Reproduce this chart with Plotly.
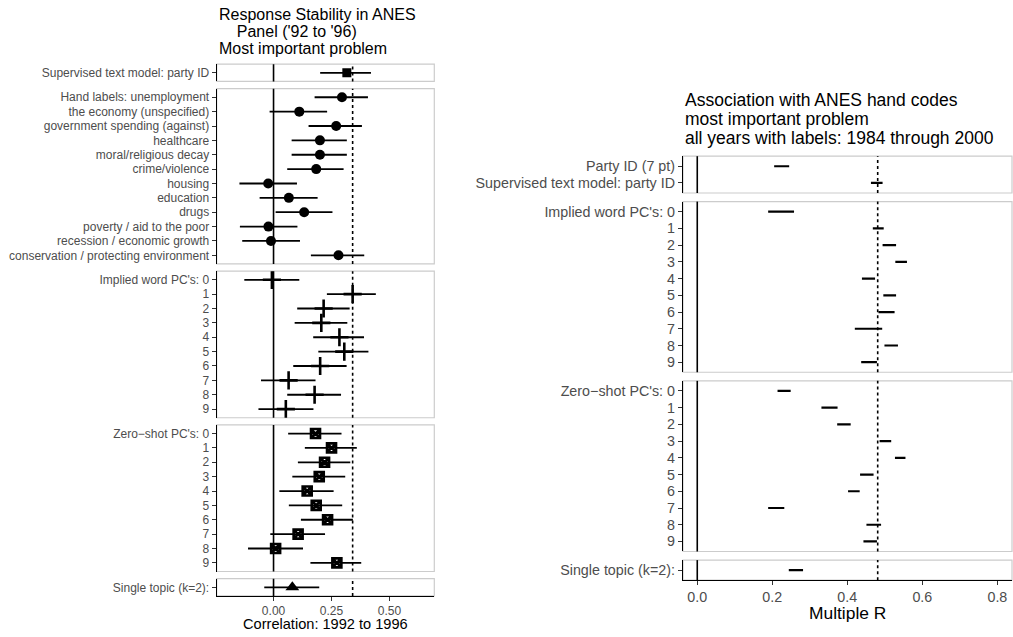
import plotly.graph_objects as go

W, H = 1013, 637
FONT = "Liberation Sans, Arial, Helvetica, sans-serif"
TICK_GREY = "#4D4D4D"
BORDER_GREY = "#CCCCCC"

# ---------------- Left: response stability, ANES panel '92 -> '96 ----------------
sup_labels = ["Supervised text model: party ID"]
sup_est = [0.316]
sup_lo = [0.201]
sup_hi = [0.420]

hand_labels = [
    "Hand labels: unemployment",
    "the economy (unspecified)",
    "government spending (against)",
    "healthcare",
    "moral/religious decay",
    "crime/violence",
    "housing",
    "education",
    "drugs",
    "poverty / aid to the poor",
    "recession / economic growth",
    "conservation / protecting environment",
]
hand_est = [0.295, 0.111, 0.270, 0.200, 0.200, 0.184, -0.023, 0.066, 0.132, -0.022, -0.011, 0.280]
hand_lo = [0.177, -0.017, 0.151, 0.078, 0.078, 0.059, -0.147, -0.060, 0.009, -0.145, -0.135, 0.161]
hand_hi = [0.407, 0.231, 0.381, 0.316, 0.316, 0.302, 0.101, 0.190, 0.254, 0.103, 0.114, 0.391]

implied_labels = ["Implied word PC's: 0", "1", "2", "3", "4", "5", "6", "7", "8", "9"]
impl_est = [-0.007, 0.341, 0.216, 0.206, 0.284, 0.305, 0.201, 0.065, 0.177, 0.053]
impl_lo = [-0.126, 0.230, 0.102, 0.091, 0.171, 0.193, 0.085, -0.054, 0.059, -0.065]
impl_hi = [0.111, 0.441, 0.328, 0.318, 0.390, 0.409, 0.315, 0.181, 0.291, 0.172]

zeroshot_labels = ["Zero\u2212shot PC's: 0", "1", "2", "3", "4", "5", "6", "7", "8", "9"]
zs_est = [0.181, 0.250, 0.220, 0.197, 0.145, 0.184, 0.233, 0.106, 0.009, 0.273]
zs_lo = [0.063, 0.135, 0.105, 0.081, 0.025, 0.066, 0.118, -0.014, -0.110, 0.159]
zs_hi = [0.293, 0.359, 0.331, 0.309, 0.259, 0.296, 0.342, 0.222, 0.127, 0.378]

topic_labels = ["Single topic (k=2):"]
topic_est = [0.081]
topic_lo = [-0.040]
topic_hi = [0.197]

stability_ref = 0.341
left_ticks = [0.0, 0.25, 0.5]
left_ticktext = ["0.00", "0.25", "0.50"]

# ---------------- Right: association with ANES hand codes ----------------
r_party_labels = ["Party ID (7 pt)", "Supervised text model: party ID"]
r_party_lo = [0.205, 0.463]
r_party_hi = [0.245, 0.494]

r_impl_lo = [0.189, 0.468, 0.494, 0.528, 0.439, 0.496, 0.483, 0.420, 0.499, 0.437]
r_impl_hi = [0.258, 0.497, 0.530, 0.559, 0.474, 0.530, 0.526, 0.493, 0.535, 0.479]

r_zs_lo = [0.214, 0.331, 0.373, 0.486, 0.527, 0.434, 0.402, 0.189, 0.451, 0.443]
r_zs_hi = [0.249, 0.374, 0.409, 0.517, 0.555, 0.470, 0.433, 0.232, 0.490, 0.479]

r_topic_labels = ["Single topic (k=2):"]
r_topic_lo = [0.244]
r_topic_hi = [0.282]

assoc_ref = 0.481
right_ticks = [0.0, 0.2, 0.4, 0.6, 0.8]
right_ticktext = ["0.0", "0.2", "0.4", "0.6", "0.8"]


def fx(px):
    return px / W


def fy(py):
    return 1 - py / H


def stack(top, unit, gap, counts):
    """Vertical pixel extents of facet panels sized by row count."""
    out = []
    y = top
    for n in counts:
        h = (n + 0.2) * unit
        out.append((y, y + h))
        y += h + gap
    return out


fig = go.Figure()
shapes = []
axis_n = [0]


def add_panel(xpx, ypx, labels, xrange, ref, tickfont, bottom=False,
              xticks=None, xticktext=None):
    axis_n[0] += 1
    k = axis_n[0]
    sfx = "" if k == 1 else str(k)
    n = len(labels)
    fig.update_layout(**{
        f"xaxis{sfx}": dict(
            domain=[fx(xpx[0]), fx(xpx[1])], anchor=f"y{sfx}", range=xrange,
            showgrid=False, zeroline=False, fixedrange=True,
            showline=bottom, linecolor="black", linewidth=1.2,
            ticks="outside" if bottom else "", ticklen=3.5, tickcolor="#333333",
            showticklabels=bottom, tickvals=xticks, ticktext=xticktext,
            tickfont=dict(family=FONT, size=tickfont, color=TICK_GREY),
        ),
        f"yaxis{sfx}": dict(
            domain=[fy(ypx[1]), fy(ypx[0])], anchor=f"x{sfx}",
            range=[n - 1 + 0.6, -0.6], showgrid=False, zeroline=False,
            fixedrange=True, showline=True, linecolor="black", linewidth=1.2,
            ticks="outside", ticklen=4, tickcolor="#333333",
            tickvals=list(range(n)), ticktext=labels,
            tickfont=dict(family=FONT, size=tickfont, color=TICK_GREY),
        ),
    })
    # panel border
    shapes.append(dict(type="rect", xref="paper", yref="paper", layer="below",
                       x0=fx(xpx[0]), x1=fx(xpx[1]), y0=fy(ypx[1]), y1=fy(ypx[0]),
                       line=dict(color=BORDER_GREY, width=1.2)))
    # zero line and reference line
    shapes.append(dict(type="line", xref=f"x{sfx}", yref=f"y{sfx} domain", layer="below",
                       x0=0, x1=0, y0=0, y1=1, line=dict(color="black", width=1.6)))
    shapes.append(dict(type="line", xref=f"x{sfx}", yref=f"y{sfx} domain", layer="below",
                       x0=ref, x1=ref, y0=0, y1=1,
                       line=dict(color="black", width=1.6, dash="dot")))
    return f"x{sfx}", f"y{sfx}"


def add_points(axes, est, lo, hi, symbol, size, line_w=0):
    xa, ya = axes
    fig.add_trace(go.Scatter(
        x=est, y=list(range(len(est))), xaxis=xa, yaxis=ya, mode="markers",
        marker=dict(symbol=symbol, size=size, color="black",
                    line=dict(color="black", width=line_w)),
        error_x=dict(type="data", symmetric=False,
                     array=[h - e for h, e in zip(hi, est)],
                     arrayminus=[e - l for e, l in zip(est, lo)],
                     width=0, thickness=1.8, color="black"),
        showlegend=False, hoverinfo="skip",
    ))


def add_segments(axes, lo, hi):
    xa, ya = axes
    xs, ys = [], []
    for i, (l, h) in enumerate(zip(lo, hi)):
        xs += [l, h, None]
        ys += [i, i, None]
    fig.add_trace(go.Scatter(
        x=xs, y=ys, xaxis=xa, yaxis=ya, mode="lines",
        line=dict(color="black", width=2.2), showlegend=False, hoverinfo="skip",
    ))


# ----- left facets -----
L_X = (216.7, 434.3)
L_RANGE = [-0.245, 0.693]
left_groups = [
    (sup_labels, sup_est, sup_lo, sup_hi, "square", 9, 0),
    (hand_labels, hand_est, hand_lo, hand_hi, "circle", 10, 0),
    (implied_labels, impl_est, impl_lo, impl_hi, "cross-thin-open", 13, 2.6),
    (zeroshot_labels, zs_est, zs_lo, zs_hi, "square-x-open", 9, 2.6),
    (topic_labels, topic_est, topic_lo, topic_hi, "triangle-up", 12, 0),
]
left_ext = stack(64.2, 14.37, 7.2, [len(g[0]) for g in left_groups])
for i, (g, ext) in enumerate(zip(left_groups, left_ext)):
    labels, est, lo, hi, sym, sz, lw = g
    last = i == len(left_groups) - 1
    ax = add_panel(L_X, ext, labels, L_RANGE, stability_ref, 12, bottom=last,
                   xticks=left_ticks if last else None,
                   xticktext=left_ticktext if last else None)
    add_points(ax, est, lo, hi, sym, sz, lw)

# ----- right facets -----
R_X = (683.0, 1012.0)
R_RANGE = [-0.038, 0.839]
right_groups = [
    (r_party_labels, r_party_lo, r_party_hi),
    (implied_labels, r_impl_lo, r_impl_hi),
    (zeroshot_labels, r_zs_lo, r_zs_hi),
    (r_topic_labels, r_topic_lo, r_topic_hi),
]
right_ext = stack(156.2, 16.73, 8.6, [len(g[0]) for g in right_groups])
for i, (g, ext) in enumerate(zip(right_groups, right_ext)):
    labels, lo, hi = g
    last = i == len(right_groups) - 1
    ax = add_panel(R_X, ext, labels, R_RANGE, assoc_ref, 14.3, bottom=last,
                   xticks=right_ticks if last else None,
                   xticktext=right_ticktext if last else None)
    add_segments(ax, lo, hi)

# ----- titles -----
annotations = []
left_title = ["Response Stability in ANES",
              "\u00a0\u00a0\u00a0\u00a0Panel ('92 to '96)",
              "Most important problem"]
for line, yc in zip(left_title, [14.0, 31.2, 48.3]):
    annotations.append(dict(text=line, x=fx(217), y=fy(yc), xref="paper", yref="paper",
                            xanchor="left", yanchor="middle", showarrow=False,
                            font=dict(family=FONT, size=16, color="black")))
right_title = ["Association with ANES hand codes",
               "most important problem",
               "all years with labels: 1984 through 2000"]
for line, yc in zip(right_title, [100.0, 119.3, 138.3]):
    annotations.append(dict(text=line, x=fx(683), y=fy(yc), xref="paper", yref="paper",
                            xanchor="left", yanchor="middle", showarrow=False,
                            font=dict(family=FONT, size=17.5, color="black")))
annotations.append(dict(text="Correlation: 1992 to 1996", x=fx(sum(L_X) / 2), y=fy(624.0),
                        xref="paper", yref="paper", xanchor="center", yanchor="middle",
                        showarrow=False, font=dict(family=FONT, size=14.6, color="black")))
annotations.append(dict(text="Multiple R", x=fx(sum(R_X) / 2), y=fy(613.0),
                        xref="paper", yref="paper", xanchor="center", yanchor="middle",
                        showarrow=False, font=dict(family=FONT, size=17.4, color="black")))

fig.update_layout(
    width=W, height=H, autosize=False,
    margin=dict(l=0, r=0, t=0, b=0),
    paper_bgcolor="white", plot_bgcolor="white",
    font=dict(family=FONT),
    shapes=shapes, annotations=annotations, showlegend=False,
)

fig.write_html("out.html", config={"displayModeBar": False})
